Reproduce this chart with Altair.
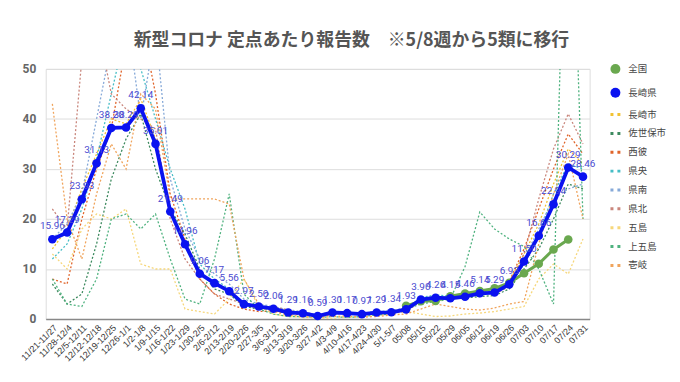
import altair as alt
import pandas as pd

weeks = ["11/21-11/27", "11/28-12/4", "12/5-12/11", "12/12-12/18", "12/19-12/25",
         "12/26-1/1", "1/2-1/8", "1/9-1/15", "1/16-1/22", "1/23-1/29", "1/30-2/5",
         "2/6-2/12", "2/13-2/19", "2/20-2/26", "2/27-3/5", "3/6-3/12", "3/13-3/19",
         "3/20-3/26", "3/27-4/2", "4/3-4/9", "4/10-4/16", "4/17-4/23", "4/24-4/30",
         "5/1-5/7", "05/08", "05/15", "05/22", "05/29", "06/05", "06/12", "06/19",
         "06/26", "07/03", "07/10", "07/17", "07/24", "07/31"]

zenkoku = [None] * 24 + [2.63, 3.55, 3.63, 4.55, 5.11, 5.60, 6.13, 7.24, 9.14, 11.04, 13.91, 15.91, None]

nagasaki_ken = [15.96, 17.29, 23.93, 31.13, 38.20, 38.29, 42.14, 35.01, 21.49, 14.96, 9.06,
                7.17, 5.56, 2.97, 2.50, 2.06, 1.29, 1.16, 0.59, 1.30, 1.17, 0.97, 1.29, 1.34,
                1.93, 3.90, 4.26, 4.15, 4.46, 5.14, 5.29, 6.93, 11.50, 16.66, 22.94, 30.29, 28.46]

nagasaki_shi = [14, 18, 26, 33, 40, 39, 44, 36, 22, 15, 9, 7, 5.5, 2.8, 2.3, 2.0, 1.2, 1.1, 0.6,
                1.3, 1.0, 0.9, 1.2, 1.3, 2.0, 4.2, 4.5, 4.3, 4.8, 5.5, 5.5, 7.5, 13, 19, 27, 34, 31]
sasebo = [7, 3, 5, 15, 28, 36, 41, 30, 22, 17, 10, 6, 5, 2.5, 2, 1.8, 1.0, 1.3, 0.5, 1.2, 1.4,
          1.1, 1.5, 1.4, 2.2, 3.6, 4.0, 4.1, 4.2, 4.5, 4.7, 6.0, 10, 14, 20, 27, 26]
seihi = [8, 7, 20, 30, 38, 55, 60, 45, 25, 16, 8, 5, 3, 2, 1.5, 1.6, 1.2, 0.8, 0.4, 1.0, 1.3,
         0.8, 1.0, 1.2, 2.0, 3.8, 4.0, 4.2, 4.5, 5.0, 5.5, 7.5, 14, 22, 30, 37, 33]
kenou = [12, 15, 22, 32, 45, 58, 50, 40, 30, 22, 11, 8, 6, 3, 2.8, 2.2, 1.5, 1.2, 0.7, 1.5, 1.3,
         1.2, 1.4, 1.6, 2.0, 4.3, 4.8, 4.6, 5.0, 5.8, 5.6, 6.5, 11, 17, 25, 31, 30]
kennan = [16, 19, 25, 40, 55, 62, 40, 58, 28, 18, 12, 9, 7, 4, 3, 2.5, 1.8, 1.5, 0.8, 1.5, 1.2,
          1.0, 1.5, 1.5, 2.4, 4.0, 4.3, 4.0, 4.5, 5.0, 5.3, 7.0, 12, 18, 24, 26, 27]
kenhoku = [22, 18, 52, 60, 45, 42, 40, 38, 20, 12, 8, 5, 4, 3, 2, 2.5, 1.8, 1.0, 0.5, 0.8, 1.4,
           1.0, 1.0, 1.3, 1.5, 3.5, 3.8, 4.2, 4.8, 5.5, 5.0, 6.5, 13, 24, 34, 41, 35]
goto = [13, 10, 18, 21, 20, 22, 11, 10, 10, 2, 1.5, 1.0, 4, 8, 2.5, 1.0, 0.5, 0.3, 0.2, 0.1,
        0.4, 0.3, 0.8, 1.0, 1.5, 1.0, 0.5, 0.6, 1.0, 1.2, 1.5, 2.0, 2.5, 8, 11, 9, 16]
kamigoto = [8, 3, 2.5, 8, 20, 21, 18, 21, 12, 4, 3, 12, 25, 5, 2, 1, 0.5, 0.5, 0.3, 0.5, 0.3,
            0.5, 0.8, 1.0, 2.0, 3, 3.5, 4.0, 10.5, 21.4, 18, 16, 14.5, 10, 3, 110, 20]
iki = [43, 20, 12, 25, 35, 30, 45, 42, 24, 24, 24, 24, 23, 8, 3, 1.5, 0.8, 0.5, 0.3, 0.5, 0.6,
       0.4, 0.5, 0.8, 1.0, 2.0, 3.0, 2.5, 2.0, 1.8, 2.2, 3.0, 3.5, 15, 25, 33, 20]

series_names = ["全国", "長崎県", "長崎市", "佐世保市", "西彼", "県央", "県南", "県北", "五島", "上五島", "壱岐"]
series_colors = ["#6aa84f", "#0a12f0", "#f1c232", "#3d8a5f", "#e0642a", "#46bdc6", "#86a9d8",
                 "#c9867c", "#f6d77b", "#4fb27f", "#f0a45c"]
dots = "M-1,-0.3H-0.4V0.3H-1Z M0.4,-0.3H1V0.3H0.4Z"
series_shapes = ["circle", "circle"] + [dots] * 9

regional = {"長崎市": nagasaki_shi, "佐世保市": sasebo, "西彼": seihi, "県央": kenou,
            "県南": kennan, "県北": kenhoku, "五島": goto, "上五島": kamigoto, "壱岐": iki}


def frame(name, vals):
    rows = [{"week": w, "idx": i, "series": name, "value": v}
            for i, (w, v) in enumerate(zip(weeks, vals)) if v is not None]
    return pd.DataFrame(rows)


df_reg = pd.concat([frame(k, v) for k, v in regional.items()], ignore_index=True)
df_zen = frame("全国", zenkoku)
df_ken = frame("長崎県", nagasaki_ken)

x_enc = alt.X("week:N", sort=weeks, title=None,
              scale=alt.Scale(type="point", padding=0.45),
              axis=alt.Axis(labelAngle=-45, labelFontSize=9, labelColor="#333",
                            labelFont="Liberation Sans", ticks=False, domainColor="#888",
                            domainWidth=1.5, grid=False, labelPadding=4))
y_enc = alt.Y("value:Q", title=None, scale=alt.Scale(domain=[0, 50]),
              axis=alt.Axis(values=[0, 10, 20, 30, 40, 50], labelFontSize=12,
                            labelFontWeight="bold", labelColor="#666", labelFont="Roboto",
                            ticks=False, domain=False, gridColor="#dddddd", labelPadding=10))
order_enc = alt.Order("idx:Q")
color_scale = alt.Scale(domain=series_names, range=series_colors)
shape_scale = alt.Scale(domain=series_names, range=series_shapes)
# stroke scale: same mapping, listed in another order so its (hidden) legend stays separate
stroke_scale = alt.Scale(domain=series_names[::-1], range=series_colors[::-1])

reg_lines = alt.Chart(df_reg).mark_line(strokeWidth=1.3, strokeDash=[2, 2], clip=True).encode(
    x=x_enc, y=y_enc, order=order_enc,
    stroke=alt.Stroke("series:N", scale=stroke_scale, legend=None))

zen_line = alt.Chart(df_zen).mark_line(strokeWidth=3).encode(
    x=x_enc, y=y_enc, order=order_enc,
    stroke=alt.Stroke("series:N", scale=stroke_scale, legend=None))

ken_line = alt.Chart(df_ken).mark_line(strokeWidth=3.8).encode(
    x=x_enc, y=y_enc, order=order_enc,
    stroke=alt.Stroke("series:N", scale=stroke_scale, legend=None))

legend = alt.Legend(title=None, orient="none", legendX=568, legendY=-6, rowPadding=8,
                    labelFont="Noto Sans CJK JP", labelFontSize=9.5, labelColor="#444",
                    labelOffset=7, symbolOpacity=1)

pts = alt.Chart(pd.concat([df_zen, df_ken], ignore_index=True)).mark_point(
    filled=True, size=75, opacity=1).encode(
    x=x_enc, y=y_enc,
    color=alt.Color("series:N", scale=color_scale, legend=legend),
    shape=alt.Shape("series:N", scale=shape_scale, legend=legend))

zen_pts = pts.transform_filter(alt.datum.series == "全国")
ken_pts = pts.transform_filter(alt.datum.series == "長崎県")

ken_text = alt.Chart(df_ken).mark_text(dy=-8, baseline="bottom", fontSize=10, font="Roboto",
                                       color="#4a4ad0").encode(
    x=x_enc, y=y_enc, text=alt.Text("value:Q", format=".2f"))

chart = alt.layer(reg_lines, zen_line, zen_pts, ken_line, ken_pts, ken_text).properties(
    width=548, height=252,
    title=alt.TitleParams("新型コロナ 定点あたり報告数　※5/8週から5類に移行",
                          font="Noto Sans CJK JP", fontSize=18, fontWeight="bold",
                          color="#555555", anchor="middle", offset=13, dx=34),
    padding={"left": 11, "top": 23, "right": 5, "bottom": 5}
).configure_view(stroke=None).configure(background="white")

chart.save("out.html", embed_options={"renderer": "svg", "actions": False})
